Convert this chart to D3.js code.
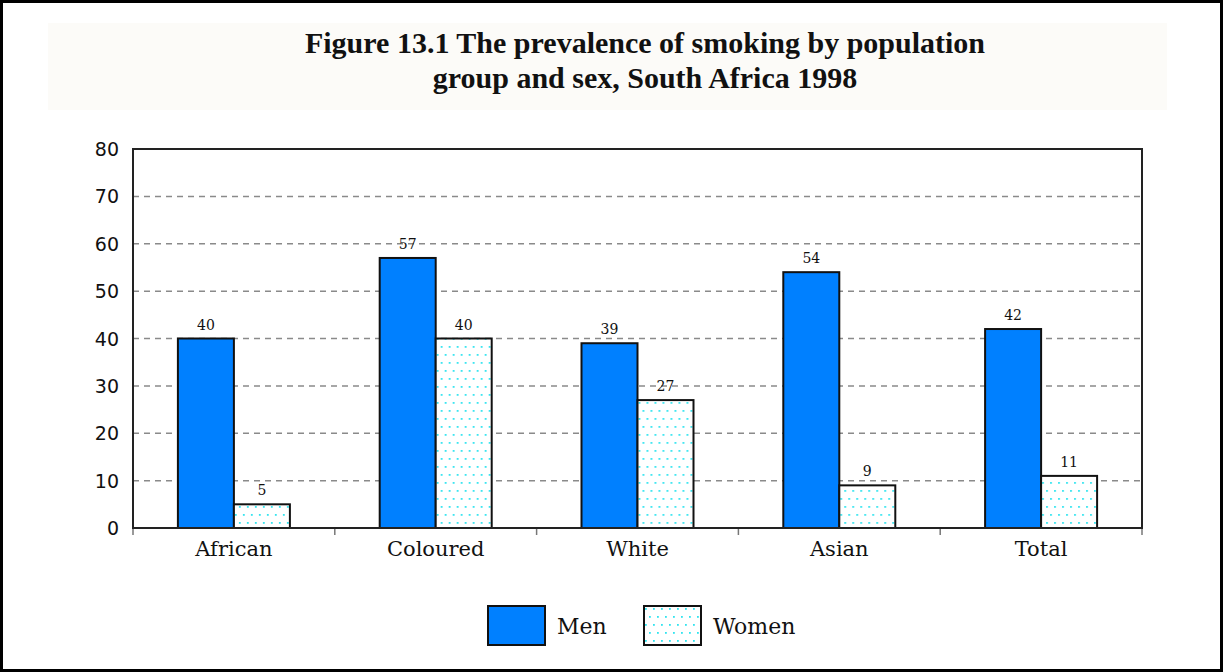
<!DOCTYPE html>
<html>
<head>
<meta charset="utf-8">
<script src="https://cdn.jsdelivr.net/npm/d3@7"></script>
<style>
  html, body { margin: 0; padding: 0; background: #fff; }
  svg { display: block; }
</style>
</head>
<body>
<div id="chart"></div>
<script>
// data
const groups = ["African", "Coloured", "White", "Asian", "Total"];
const seriesNames = ["Men", "Women"];
const men = [40, 57, 39, 54, 42];
const women = [5, 40, 27, 9, 11];
const yTicks = [0, 10, 20, 30, 40, 50, 60, 70, 80];
const titleLines = ["Figure 13.1 The prevalence of smoking by population", "group and sex, South Africa 1998"];

(function () {
  const W = 1223, H = 672;
  const plot = { left: 133, right: 1142, top: 149, bottom: 528 };

  const svg = d3.select("#chart").append("svg")
    .attr("width", W).attr("height", H);

  // women dotted fill (staggered cyan dots)
  const defs = svg.append("defs");
  const pat = defs.append("pattern")
    .attr("id", "dots").attr("patternUnits", "userSpaceOnUse")
    .attr("width", 8).attr("height", 16);
  pat.append("rect").attr("width", 8).attr("height", 16).attr("fill", "#fff");
  pat.append("rect").attr("x", 1).attr("y", 2).attr("width", 1.8).attr("height", 1.8).attr("fill", "#30e4f0");
  pat.append("rect").attr("x", 5).attr("y", 10).attr("width", 1.8).attr("height", 1.8).attr("fill", "#30e4f0");

  // outer frame
  svg.append("rect")
    .attr("x", 1.5).attr("y", 1.5).attr("width", W - 3).attr("height", H - 3)
    .attr("fill", "#fff").attr("stroke", "#000").attr("stroke-width", 3);

  // title panel
  svg.append("rect")
    .attr("x", 48).attr("y", 23).attr("width", 1119).attr("height", 87)
    .attr("fill", "#fcfbf8");

  svg.append("g").selectAll("text").data(titleLines).join("text")
    .attr("x", 645).attr("y", (d, i) => 53 + i * 35)
    .attr("text-anchor", "middle")
    .attr("font-family", "'Liberation Serif', 'Times New Roman', serif")
    .attr("font-weight", "bold").attr("font-size", "30px")
    .attr("fill", "#111")
    .text(d => d);

  // scales
  const x0 = d3.scaleBand().domain(groups).range([plot.left, plot.right]).paddingInner(0).paddingOuter(0);
  const barW = 56;
  const x1 = d3.scaleBand().domain(seriesNames).range([0, barW * 2]);
  const y = d3.scaleLinear().domain([0, 80]).range([plot.bottom, plot.top]);

  // gridlines
  svg.append("g").selectAll("line").data(yTicks.filter(t => t > 0 && t < 80)).join("line")
    .attr("x1", plot.left).attr("x2", plot.right)
    .attr("y1", d => y(d)).attr("y2", d => y(d))
    .attr("stroke", "#8a8a8a").attr("stroke-width", 1.5)
    .attr("stroke-dasharray", "6,5");

  // y tick labels
  svg.append("g").selectAll("text").data(yTicks).join("text")
    .attr("x", 119).attr("y", d => y(d) + 7)
    .attr("text-anchor", "end")
    .attr("font-family", "'DejaVu Sans', sans-serif")
    .attr("font-size", "19px").attr("fill", "#111")
    .text(d => d);

  // x tick marks at group boundaries
  const bounds = groups.map(g => x0(g)).concat([plot.right]);
  svg.append("g").selectAll("line").data(bounds).join("line")
    .attr("x1", d => d).attr("x2", d => d)
    .attr("y1", plot.bottom).attr("y2", plot.bottom + 7)
    .attr("stroke", "#777").attr("stroke-width", 1.5);

  // bars
  const data = groups.map((g, i) => ({ group: g, vals: [
    { key: "Men", v: men[i] }, { key: "Women", v: women[i] }
  ] }));

  const gg = svg.append("g").selectAll("g").data(data).join("g")
    .attr("transform", d => `translate(${x0(d.group) + x0.bandwidth() / 2 - barW},0)`);

  gg.selectAll("rect").data(d => d.vals).join("rect")
    .attr("x", d => x1(d.key))
    .attr("y", d => y(d.v))
    .attr("width", x1.bandwidth())
    .attr("height", d => plot.bottom - y(d.v))
    .attr("fill", d => d.key === "Men" ? "#0080ff" : "url(#dots)")
    .attr("stroke", "#111").attr("stroke-width", 2);

  gg.selectAll("text").data(d => d.vals).join("text")
    .attr("x", d => x1(d.key) + x1.bandwidth() / 2)
    .attr("y", d => y(d.v) - 9)
    .attr("text-anchor", "middle")
    .attr("font-family", "'DejaVu Serif', serif")
    .attr("font-size", "14px").attr("fill", "#111")
    .text(d => d.v);

  // plot frame
  svg.append("rect")
    .attr("x", plot.left).attr("y", plot.top)
    .attr("width", plot.right - plot.left).attr("height", plot.bottom - plot.top)
    .attr("fill", "none").attr("stroke", "#222").attr("stroke-width", 2);

  // category labels
  svg.append("g").selectAll("text").data(groups).join("text")
    .attr("x", d => x0(d) + x0.bandwidth() / 2).attr("y", 556)
    .attr("text-anchor", "middle")
    .attr("font-family", "'DejaVu Serif', serif")
    .attr("font-size", "21px").attr("fill", "#111")
    .text(d => d);

  // legend
  const legend = svg.append("g");
  const lx = [488, 644];
  const lg = legend.selectAll("g").data(seriesNames).join("g")
    .attr("transform", (d, i) => `translate(${lx[i]},606)`);
  lg.append("rect")
    .attr("width", 57).attr("height", 39)
    .attr("fill", d => d === "Men" ? "#0080ff" : "url(#dots)")
    .attr("stroke", "#111").attr("stroke-width", 2);
  lg.append("text")
    .attr("x", 69).attr("y", 28)
    .attr("font-family", "'DejaVu Serif', serif")
    .attr("font-size", "22px").attr("fill", "#111")
    .text(d => d);
})();
</script>
</body>
</html>
